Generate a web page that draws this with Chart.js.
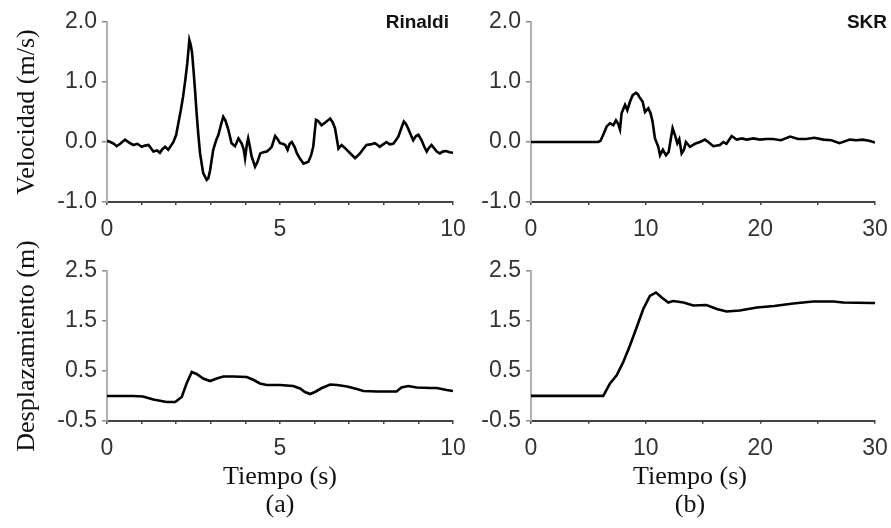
<!DOCTYPE html>
<html><head><meta charset="utf-8">
<script src="https://cdn.jsdelivr.net/npm/chart.js@4/dist/chart.umd.min.js"></script>
<style>
html,body{margin:0;padding:0;background:#fff;width:891px;height:528px;overflow:hidden;position:relative}
canvas{position:absolute}
</style></head><body>
<canvas id="c1" width="478" height="240" style="left:0;top:0"></canvas>
<canvas id="c2" width="430" height="240" style="left:470px;top:0"></canvas>
<canvas id="c3" width="478" height="303" style="left:0;top:225px"></canvas>
<canvas id="c4" width="435" height="303" style="left:470px;top:225px"></canvas>
<script>
// ---- Data ----
const rinaldiVelT = [0,0.1,0.2,0.28,0.4,0.52,0.64,0.76,0.88,1.0,
  1.1,1.2,1.34,1.45,1.53,1.6,1.68,1.77,1.85,1.92,
  2.0,2.06,2.13,2.2,2.26,2.32,2.38,2.42,2.46,2.5,
  2.55,2.59,2.64,2.69,2.78,2.88,2.93,2.98,3.07,3.15,
  3.22,3.3,3.36,3.42,3.5,3.6,3.7,3.8,3.89,3.95,
  3.99,4.04,4.08,4.13,4.18,4.28,4.35,4.43,4.52,4.62,
  4.7,4.76,4.86,4.93,5.0,5.08,5.15,5.22,5.28,5.34,
  5.42,5.49,5.58,5.68,5.82,5.9,5.96,6.04,6.1,6.2,
  6.3,6.45,6.52,6.59,6.69,6.78,6.86,6.93,7.05,7.17,
  7.24,7.31,7.4,7.5,7.62,7.74,7.82,7.88,7.98,8.08,
  8.17,8.27,8.35,8.42,8.5,8.58,8.64,8.7,8.78,8.85,
  8.93,9.0,9.09,9.17,9.24,9.3,9.38,9.45,9.53,9.62,
  9.7,9.8,9.9,10.0];
const rinaldiVel = [0.02,0.0,-0.03,-0.07,-0.02,0.04,-0.01,-0.05,-0.03,-0.08,
  -0.06,-0.05,-0.16,-0.14,-0.18,-0.12,-0.08,-0.13,-0.06,0.0,
  0.12,0.31,0.52,0.76,1.02,1.31,1.70,1.62,1.48,1.20,
  0.82,0.48,0.12,-0.19,-0.52,-0.63,-0.60,-0.47,-0.13,0.02,
  0.12,0.30,0.42,0.36,0.22,-0.02,-0.07,0.06,-0.02,-0.12,
  -0.27,-0.05,0.06,-0.08,-0.24,-0.41,-0.33,-0.19,-0.17,-0.16,
  -0.12,-0.08,0.10,0.05,-0.02,-0.03,-0.05,-0.13,-0.03,0.0,
  -0.08,-0.19,-0.28,-0.36,-0.33,-0.22,-0.08,0.37,0.35,0.28,
  0.32,0.39,0.33,0.23,-0.11,-0.05,-0.09,-0.13,-0.20,-0.27,
  -0.23,-0.19,-0.12,-0.05,-0.04,-0.02,-0.05,-0.08,-0.04,0.0,
  -0.04,-0.03,0.03,0.09,0.22,0.34,0.30,0.23,0.12,0.03,
  0.10,0.12,0.03,-0.08,-0.16,-0.10,-0.05,-0.10,-0.16,-0.19,
  -0.16,-0.15,-0.17,-0.18];

const rinaldiDispT = [0,0.75,1.04,1.34,1.72,1.97,2.16,2.3,2.45,2.59,
  2.78,2.98,3.17,3.36,3.65,4.04,4.24,4.42,4.62,5.0,
  5.38,5.58,5.72,5.87,6.01,6.21,6.45,6.65,6.94,7.22,
  7.41,7.8,8.37,8.51,8.71,8.95,9.34,9.53,9.82,10];
const rinaldiDisp = [0,0,-0.01,-0.07,-0.12,-0.12,-0.02,0.25,0.48,0.44,
  0.35,0.30,0.35,0.39,0.39,0.38,0.32,0.25,0.22,0.22,
  0.20,0.15,0.08,0.04,0.08,0.16,0.23,0.22,0.19,0.14,
  0.10,0.09,0.09,0.17,0.20,0.17,0.16,0.16,0.12,0.10];

const skrVelT = [0,5.87,6.06,6.3,6.6,6.89,7.18,7.41,7.61,7.76,
  7.9,8.05,8.2,8.4,8.63,8.87,9.15,9.3,9.45,9.74,
  9.94,10.23,10.43,10.6,10.81,11.1,11.25,11.5,11.77,12.0,
  12.35,12.55,12.76,12.93,13.14,13.34,13.51,13.86,14.3,14.73,
  15.17,15.46,15.9,16.47,16.77,17.05,17.5,17.93,18.4,18.8,
  19.4,19.97,20.5,21.1,21.8,22.6,23.3,24.0,24.7,25.5,
  26.2,26.9,27.8,28.4,28.9,29.5,30];
const skrVel = [0,0,0.02,0.12,0.26,0.31,0.28,0.36,0.30,0.21,
  0.48,0.55,0.62,0.53,0.67,0.78,0.82,0.80,0.75,0.67,
  0.50,0.56,0.48,0.34,0.06,-0.08,-0.22,-0.13,-0.22,-0.17,
  0.23,0.12,-0.02,0.05,-0.19,-0.13,0.0,-0.08,-0.03,0.0,
  0.04,0.0,-0.07,-0.05,0.0,-0.03,0.10,0.04,0.06,0.04,
  0.06,0.04,0.05,0.05,0.03,0.09,0.05,0.05,0.07,0.04,
  0.03,-0.02,0.04,0.03,0.04,0.02,-0.01];

const skrDispT = [0,6.3,6.89,7.47,8.05,8.63,9.21,9.79,10.37,10.9,
  11.4,11.97,12.4,13.3,14.15,15.3,16.2,17.06,18.2,19.7,
  21.2,22.87,24.6,26.4,27.2,29.7,30];
const skrDisp = [0,0,0.25,0.41,0.68,1.01,1.37,1.74,2.0,2.07,
  1.97,1.87,1.9,1.87,1.81,1.82,1.74,1.69,1.71,1.77,
  1.8,1.85,1.89,1.89,1.87,1.86,1.86];

// Tick labels
const velTicks = [-1, 0, 1, 2];
const dispTicks = [-0.5, 0.5, 1.5, 2.5];
const xLabelsA = [0, 5, 10];
const xLabelsB = [0, 10, 20, 30];

// Text
const panelNames = ['Rinaldi', 'SKR'];
const velTitle = 'Velocidad (m/s)';
const dispTitle = 'Desplazamiento (m)';
const timeTitleA = ['Tiempo (s)', '(a)'];
const timeTitleB = ['Tiempo (s)', '(b)'];

// ---- Drawing ----
const TICK_FONT = {family: '"Liberation Sans", Arial, sans-serif', size: 23};
const SERIF_FONT = {family: '"Liberation Serif", "Times New Roman", serif', size: 26, weight: 'normal', lineHeight: 1.08};

const panelLabel = {
  id: 'panelLabel',
  afterDraw(chart, args, opts) {
    if (!opts || !opts.text) return;
    const {ctx, chartArea} = chart;
    ctx.save();
    ctx.font = 'bold 19px "Liberation Sans", Arial, sans-serif';
    ctx.fillStyle = '#111';
    ctx.textAlign = 'right';
    ctx.textBaseline = 'middle';
    ctx.fillText(opts.text, chartArea.right + opts.dx, chartArea.top + 1);
    ctx.restore();
  }
};

function pts(xs, ys) { return xs.map((x, i) => ({x, y: ys[i]})); }

function makeChart(id, cfg) {
  const xs = {
    type: 'linear', min: cfg.xMin, max: cfg.xMax,
    afterFit: s => { s.height = cfg.xHeight; },
    ticks: {
      stepSize: cfg.xStep, autoSkip: false, maxRotation: 0, padding: 11,
      color: '#333', font: TICK_FONT,
      callback: v => cfg.xLabels.includes(v) ? String(v) : ''
    },
    grid: {drawOnChartArea: false, drawTicks: true, tickLength: 3, color: '#444', lineWidth: 1.5},
    border: {display: true, color: '#444', width: 2},
    title: cfg.xTitle ? {display: true, text: cfg.xTitle, color: '#111', font: SERIF_FONT, padding: {top: 0, bottom: 9}} : {display: false}
  };
  const ys = {
    type: 'linear', min: cfg.yTicks[0], max: cfg.yTicks[cfg.yTicks.length - 1],
    afterFit: s => { s.width = cfg.yWidth; },
    afterBuildTicks: s => { s.ticks = cfg.yTicks.map(v => ({value: v})); },
    ticks: {padding: 5, color: '#333', font: TICK_FONT, callback: v => Number(v).toFixed(1)},
    grid: {drawOnChartArea: false, drawTicks: true, tickLength: 5, color: '#888', lineWidth: 1.5},
    border: {display: true, color: '#b0b0b0', width: 2},
    title: cfg.yTitle ? {display: true, text: cfg.yTitle, color: '#111', font: {family: SERIF_FONT.family, size: 26, weight: 'normal', lineHeight: 1.2}, padding: {top: 12, bottom: 0}} : {display: false}
  };
  const scales = {x: xs, y: ys};
  if (cfg.rightGap) {
    scales.gap = {
      type: 'linear', position: 'right', display: true,
      afterFit: s => { s.width = cfg.rightGap; },
      ticks: {display: false}, grid: {display: false, drawTicks: false}, border: {display: false}
    };
  }
  return new Chart(document.getElementById(id), {
    type: 'line',
    data: {datasets: [{data: pts(cfg.t, cfg.v), borderColor: '#000', borderWidth: 2.6, pointRadius: 0, tension: 0, fill: false}]},
    plugins: [panelLabel],
    options: {
      responsive: false, animation: false, events: [],
      layout: {padding: cfg.padding},
      scales: scales,
      plugins: {
        legend: {display: false}, tooltip: {enabled: false},
        title: cfg.plotTitle ? {display: true, position: 'bottom', text: cfg.plotTitle, color: '#111', font: SERIF_FONT, padding: {top: 0, bottom: 9}} : {display: false},
        panelLabel: cfg.label ? {text: cfg.label, dx: cfg.labelDx} : {text: ''}
      }
    }
  });
}

makeChart('c1', {t: rinaldiVelT, v: rinaldiVel, xMin: 0, xMax: 10, xStep: 1, xLabels: xLabelsA,
  yTicks: velTicks, yTitle: velTitle, yWidth: 107, xHeight: 38,
  padding: {left: 0, top: 22, right: 25, bottom: 0}, label: panelNames[0], labelDx: -4});
makeChart('c2', {t: skrVelT, v: skrVel, xMin: 0, xMax: 30, xStep: 5, xLabels: xLabelsB,
  yTicks: velTicks, yWidth: 56, xHeight: 38,
  padding: {left: 5, top: 22, right: 25, bottom: 0}, label: panelNames[1], labelDx: 12});
makeChart('c3', {t: rinaldiDispT, v: rinaldiDisp, xMin: 0, xMax: 10, xStep: 1, xLabels: xLabelsA,
  yTicks: dispTicks, yTitle: dispTitle, yWidth: 107, xHeight: 107, xTitle: timeTitleA,
  padding: {left: 0, top: 46, right: 25, bottom: 0}});
makeChart('c4', {t: skrDispT, v: skrDisp, xMin: 0, xMax: 30, xStep: 5, xLabels: xLabelsB,
  yTicks: dispTicks, yWidth: 56, xHeight: 42, plotTitle: timeTitleB, rightGap: 30,
  padding: {left: 5, top: 46, right: 0, bottom: 0}});
</script>
</body></html>
